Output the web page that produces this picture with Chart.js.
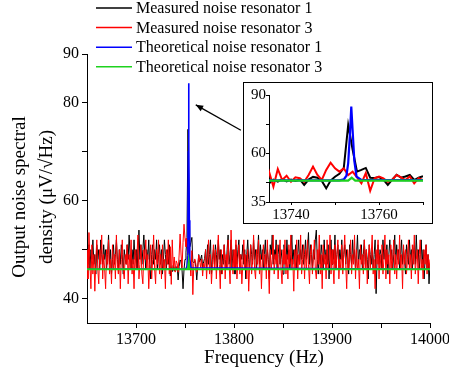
<!DOCTYPE html>
<html>
<head>
<meta charset="utf-8">
<script src="https://cdn.jsdelivr.net/npm/chart.js@4.4.1/dist/chart.umd.min.js"></script>
<style>
html,body{margin:0;padding:0;background:#fff;}
#wrap{position:relative;width:449px;height:375px;}
#main{position:absolute;left:0;top:0;}
#insetBox{position:absolute;left:243px;top:82px;width:190px;height:142px;box-sizing:border-box;border:1px solid #000;background:#fff;}
#inset{display:block;}
</style>
</head>
<body>
<div id="wrap">
<canvas id="main" width="449" height="375"></canvas>
<div id="insetBox"><canvas id="inset" width="188" height="140"></canvas></div>
</div>
<script>
// measured spectra, 1 Hz bins starting at 13650 Hz
var freqStart = 13650
var freqStep = 1

var measured1 = [
  49, 47, 51, 46, 50, 48, 52, 47, 49, 45,
  51, 48, 50, 46, 52, 49, 47, 51, 48, 50,
  46, 49, 53, 47, 50, 45, 48, 51, 47, 49,
  52, 48, 46, 50, 47, 51, 49, 45, 50, 48,
  47, 51, 48, 53, 49, 46, 50, 47, 52, 48,
  50, 46, 49, 54, 48, 51, 47, 50, 53, 49,
  46, 50, 48, 52, 47, 44, 49, 51, 47, 50,
  48, 52, 46, 49, 51, 47, 50, 45, 48, 52,
  49, 46, 50, 47, 51, 44.6, 46.5, 45.5, 46.8, 45.6,
  46.5, 45.8, 46.6, 43.8, 46.5, 47.9, 47.5, 45.8, 42, 46,
  48, 49.5, 52.5, 74.6, 62, 50.6, 51.5, 52.5, 47.5, 47.3,
  47.8, 46.5, 43.8, 46.5, 49, 47.5, 48.1, 48.9, 46.3, 47.5,
  48.2, 50, 46, 51, 47, 49, 52, 45, 48, 50,
  47, 51, 49, 46, 52, 48, 50, 45, 49, 47,
  51, 48, 46, 50, 53, 47, 49, 52, 46, 50,
  48, 45, 51, 47, 50, 52, 46, 49, 48, 51,
  47, 50, 44, 49, 52, 48, 46, 51, 49, 47,
  52, 48, 50, 46, 49, 53, 47, 51, 48, 50,
  46, 49, 52, 47, 50, 48, 44, 51, 49, 53,
  47, 50, 48, 52, 46, 49, 51, 47, 50, 48,
  45, 51, 49, 47, 52, 48, 50, 46, 49, 53,
  47, 50, 48, 51, 46, 49, 52, 47, 50, 48,
  51, 47, 49, 52, 48, 50, 53.5, 47, 51, 49,
  46, 50, 48, 52, 54, 48, 45, 50, 47, 51,
  49, 46, 52, 48, 50, 47, 51, 44, 49, 52,
  47, 50, 48, 53, 46, 49, 51, 47, 50, 48,
  52, 46, 49, 51, 47, 50, 48, 45, 51, 49,
  47, 52, 48, 50, 46, 49, 53, 47, 50, 48,
  51, 46, 49, 52, 47, 50, 48, 44, 51, 49,
  47, 50, 46, 49, 52, 41, 48, 51, 47, 50,
  49, 46, 52, 48, 50, 47, 51, 45, 49, 52,
  48, 50, 46, 49, 53, 47, 51, 48, 50, 46,
  49, 52, 47, 50, 48, 45, 51, 49, 47, 52,
  48, 50, 46, 49, 51, 47, 53, 48, 50, 46,
  49, 52, 47, 50, 44, 48, 51, 46, 49, 43,
  47
]

var measured3 = [
  50, 44, 53.5, 47, 42, 51, 45, 49, 41.5, 48,
  52, 46, 43, 50, 47, 53, 44, 49, 46, 42,
  50, 47, 52, 45, 48, 43, 51, 46, 49, 44,
  53, 47, 45, 50, 42, 48, 52, 46, 44, 49,
  47, 51, 43, 49, 46, 52, 45, 48, 42, 50,
  46, 49, 53, 44, 47, 51, 45, 43, 50, 48,
  52, 46, 49, 42, 47, 51, 44, 48, 53, 46,
  43, 50, 47, 52, 45, 49, 44, 51, 46, 48,
  42, 50, 47, 52, 45, 50.6, 42.9, 52, 46.3, 48.5,
  45.4, 47.7, 47.2, 45.4, 48.9, 53.2, 48.9, 46.3, 51.5, 55.2,
  52.3, 50.6, 52.3, 48.9, 50.6, 47.7, 44.6, 49.8, 40.8, 47.2,
  48.1, 47.2, 45.4, 46.3, 48.9, 47.7, 46.3, 48.1, 44.6, 47.2,
  46.3, 50, 44, 48, 52, 45, 49, 43, 47, 51,
  46, 50, 44, 49, 53, 47, 42, 50, 45, 48,
  51, 44, 49, 46, 52, 47, 43, 54, 48, 45,
  50, 46, 52, 44, 48, 51, 45, 49, 43, 47,
  52, 46, 49, 44, 50, 41.5, 47, 51, 45, 48,
  53, 46, 44, 50, 47, 52, 45, 49, 42, 48,
  51, 46, 49, 44, 52, 47, 41, 50, 46, 48,
  53, 45, 49, 47, 51, 44, 48, 52, 46, 43,
  50, 47, 52, 45, 49, 44, 51, 47, 53, 46,
  48, 41.5, 50, 46, 52, 44, 49, 47, 53, 45,
  48, 51, 44, 50, 46, 52, 47, 43, 49, 51,
  45, 48, 52, 46, 44, 50, 47, 53, 45, 49,
  42, 51, 47, 49, 44, 52, 46, 48, 53, 45,
  50, 47, 43, 51, 46, 49, 52, 44, 48, 46,
  51, 45, 49, 53, 47, 42, 50, 46, 48, 52,
  45, 49, 47, 53, 44, 50, 46, 48, 42, 51,
  47, 49, 45, 52, 46, 50, 43, 48, 51, 46,
  49, 53, 45, 48, 42, 50, 47, 52, 44, 49,
  46, 51, 45, 48, 53, 44, 50, 47, 49, 43,
  51, 46, 48, 52, 45, 49, 44, 50, 47, 53,
  46, 49, 42, 51, 47, 50, 45, 48, 52, 46,
  49, 44, 51, 47, 53, 45, 48, 50, 43, 49,
  52, 46, 48, 44, 50, 47, 51, 45, 49, 46,
  48
]

// theoretical curves (flat floor with the resonance near 13753.7 Hz)
var theoryFreq1 = [13650, 13751, 13752, 13752.6, 13753, 13753.4, 13753.7, 13754, 13754.4, 13754.9, 13756, 14000]
var theory1 = [46, 46.1, 46.6, 48.5, 55, 70, 84, 72, 56, 48, 46.3, 46]
var theoryFreq3 = [13650, 13753, 13753.8, 13754.6, 14000]
var theory3 = [46, 46, 47.5, 46, 46]

var seriesNames = ['Measured noise resonator 1', 'Measured noise resonator 3', 'Theoretical noise resonator 1', 'Theoretical noise resonator 3']
var seriesColors = ['#000000', '#ff0000', '#0000ff', '#1ed21e']

var yTicks = [40, 50, 60, 70, 80, 90]
var yLabels = [40, 60, 80, 90]
var xTicks = [13700, 13750, 13800, 13850, 13900, 13950, 14000]
var xLabels = [13700, 13800, 13900, 14000]

var insetYTicks = [35, 45, 60, 75, 90]
var insetYLabels = [35, 60, 90]
var insetXTicks = [13740, 13750, 13760, 13770]
var insetXLabels = [13740, 13760]

var xTitle = 'Frequency (Hz)'
var yTitle = ['Output noise spectral', 'density (\u03bcV/\u221aHz)']
var arrowFrom = {x: 13807, y: 74.4}
var arrowTo = {x: 13761, y: 79.6}

var serif = "'Liberation Serif', 'Times New Roman', serif"
Chart.defaults.font.family = serif
Chart.defaults.color = '#000'

function spectrum(vals){
  return vals.map(function(v, i){ return {x: freqStart + i*freqStep, y: v} })
}
function pairs(xs, ys){
  return xs.map(function(x, i){ return {x: x, y: ys[i]} })
}

function makeDatasets(widths){
  var data = [spectrum(measured1), spectrum(measured3), pairs(theoryFreq1, theory1), pairs(theoryFreq3, theory3)]
  var order = [3, 2, 1, 0]
  return data.map(function(d, i){
    return {
      label: seriesNames[i], data: d,
      borderColor: seriesColors[i], backgroundColor: seriesColors[i],
      borderWidth: widths[i], pointRadius: 0, tension: 0, order: order[i]
    }
  })
}

function tickSet(list){
  return function(s){ s.ticks = list.map(function(v){ return {value: v} }) }
}
function labelOnly(list){
  return function(v){ return list.indexOf(v) >= 0 ? String(v) : '' }
}

var decor = {
  id: 'decor',
  afterDraw: function(chart){
    var ctx = chart.ctx
    var xs = chart.scales.x, ys = chart.scales.y
    ctx.save()
    ctx.fillStyle = '#000'
    ctx.textBaseline = 'middle'

    // axis titles
    ctx.font = '19px ' + serif
    ctx.textAlign = 'center'
    ctx.fillText(xTitle, 264, 358)
    ctx.save()
    ctx.translate(20, 197)
    ctx.rotate(-Math.PI/2)
    ctx.fillText(yTitle[0], 0, 0)
    ctx.restore()
    ctx.save()
    ctx.translate(47, 197)
    ctx.rotate(-Math.PI/2)
    ctx.fillText(yTitle[1], 0, 0)
    ctx.restore()

    // legend
    ctx.font = '16px ' + serif
    ctx.textAlign = 'left'
    for (var i = 0; i < seriesNames.length; i++){
      var ly = 8 + i*19.6
      ctx.strokeStyle = seriesColors[i]
      ctx.lineWidth = 1.5
      ctx.beginPath()
      ctx.moveTo(96, ly)
      ctx.lineTo(132, ly)
      ctx.stroke()
      ctx.fillText(seriesNames[i], 136, ly + 1)
    }

    // arrow to the peak
    var x1 = xs.getPixelForValue(arrowFrom.x), y1 = ys.getPixelForValue(arrowFrom.y)
    var x2 = xs.getPixelForValue(arrowTo.x), y2 = ys.getPixelForValue(arrowTo.y)
    var a = Math.atan2(y2 - y1, x2 - x1)
    ctx.strokeStyle = '#000'
    ctx.lineWidth = 1.3
    ctx.beginPath()
    ctx.moveTo(x1, y1)
    ctx.lineTo(x2, y2)
    ctx.stroke()
    ctx.beginPath()
    ctx.moveTo(x2, y2)
    ctx.lineTo(x2 - 8*Math.cos(a - 0.4), y2 - 8*Math.sin(a - 0.4))
    ctx.lineTo(x2 - 8*Math.cos(a + 0.4), y2 - 8*Math.sin(a + 0.4))
    ctx.closePath()
    ctx.fillStyle = '#000'
    ctx.fill()
    ctx.restore()
  }
}

new Chart(document.getElementById('main').getContext('2d'), {
  type: 'line',
  data: {datasets: makeDatasets([1, 1, 1.6, 2])},
  options: {
    responsive: false,
    animation: false,
    layout: {padding: {top: 54, right: 19, left: 0, bottom: 0}},
    plugins: {legend: {display: false}, tooltip: {enabled: false}},
    scales: {
      x: {
        type: 'linear', min: 13650, max: 14000,
        afterBuildTicks: tickSet(xTicks),
        afterFit: function(s){ s.height = 52; s.paddingLeft = 0; s.paddingRight = 0 },
        ticks: {callback: labelOnly(xLabels), font: {size: 16}, padding: 2, maxRotation: 0, autoSkip: false, color: '#000'},
        grid: {drawOnChartArea: false, tickLength: 5, tickColor: '#000', color: '#000'},
        border: {color: '#000', width: 1}
      },
      y: {
        type: 'linear', min: 35, max: 90,
        afterBuildTicks: tickSet(yTicks),
        afterFit: function(s){ s.width = 87; s.paddingTop = 0; s.paddingBottom = 0 },
        ticks: {callback: labelOnly(yLabels), font: {size: 16}, padding: 3, autoSkip: false, color: '#000'},
        grid: {drawOnChartArea: false, tickLength: 5, tickColor: '#000', color: '#000'},
        border: {color: '#000', width: 1}
      }
    }
  },
  plugins: [decor]
})

new Chart(document.getElementById('inset').getContext('2d'), {
  type: 'line',
  data: {datasets: makeDatasets([2, 2, 2.2, 2.2])},
  options: {
    responsive: false,
    animation: false,
    layout: {padding: {top: 12, right: 9, left: 0, bottom: 0}},
    plugins: {legend: {display: false}, tooltip: {enabled: false}},
    scales: {
      x: {
        type: 'linear', min: 13735, max: 13770,
        afterBuildTicks: tickSet(insetXTicks),
        afterFit: function(s){ s.height = 21; s.paddingLeft = 0; s.paddingRight = 0 },
        ticks: {callback: labelOnly(insetXLabels), font: {size: 15}, padding: 1, maxRotation: 0, autoSkip: false, color: '#000'},
        grid: {drawOnChartArea: false, tickLength: 3, tickColor: '#000', color: '#000'},
        border: {color: '#000', width: 1}
      },
      y: {
        type: 'linear', min: 35, max: 90,
        afterBuildTicks: tickSet(insetYTicks),
        afterFit: function(s){ s.width = 25; s.paddingTop = 0; s.paddingBottom = 0 },
        ticks: {callback: labelOnly(insetYLabels), font: {size: 15}, padding: 0, autoSkip: false, color: '#000'},
        grid: {drawOnChartArea: false, tickLength: 3, tickColor: '#000', color: '#000'},
        border: {color: '#000', width: 1}
      }
    }
  }
})
</script>
</body>
</html>
